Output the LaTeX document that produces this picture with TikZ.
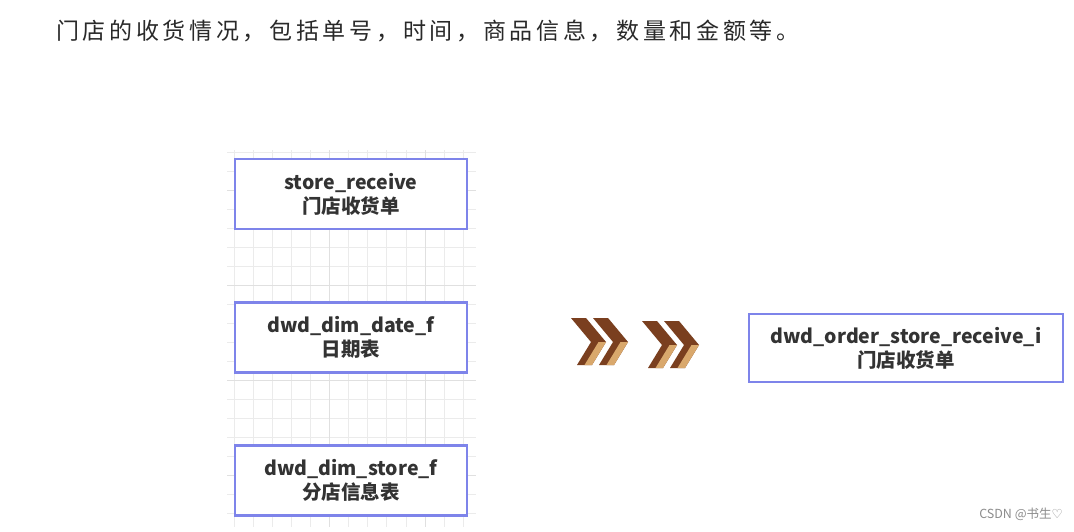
\documentclass[tikz,border=0pt]{standalone}
\usepackage{fontspec}
\setmainfont{Noto Sans CJK SC}
\newfontfamily\titlefont{Noto Sans CJK SC}[LetterSpace=16]
\newfontfamily\heartfont{DejaVu Sans}
\definecolor{boxc}{HTML}{7E84EA}
\definecolor{txtc}{HTML}{333333}
\definecolor{gridc}{HTML}{EBEBEB}
\definecolor{gridm}{HTML}{E0E0E0}
\definecolor{darkb}{HTML}{7A3F1F}
\definecolor{tanb}{HTML}{D9A86C}
\tikzset{
  tbl/.style={draw=boxc, line width=2.1pt, fill=white, align=center,
    minimum width=232pt, minimum height=70pt, inner sep=0pt, text=txtc,
    font=\bfseries\fontsize{19.5}{24}\selectfont},
  gline/.style={draw=gridc, line width=0.8pt},
  gmajor/.style={draw=gridm, line width=0.9pt},
}
\begin{document}
\begin{tikzpicture}[x=1pt,y=-1pt]
\useasboundingbox (0,0) rectangle (1074,531);
\fill[white] (0,0) rectangle (1074,531);
% grid
\foreach \k in {0,...,19} {
  \pgfmathsetmacro\yy{152+19*\k}
  \draw[gline] (227,\yy) -- (476,\yy);
}
\foreach \k in {0,...,12} {
  \pgfmathsetmacro\xx{234+19.1*\k}
  \draw[gline] (\xx,150) -- (\xx,527);
}
\foreach \yy in {190,285,380,475} \draw[gmajor] (227,\yy) -- (476,\yy);
\foreach \xx in {329.5,425} \draw[gmajor] (\xx,150) -- (\xx,527);
% title
\node[anchor=west, inner sep=0pt, text=txtc!80!black, font=\titlefont\fontsize{23}{23}\selectfont] (title) at (56,31) {门店的收货情况，包括单号，时间，商品信息，数量和金额等。};
% boxes
\node[tbl] (sr) at (351,194) {store\_receive\\门店收货单};
\node[tbl] (dt) at (351,337.5) {dwd\_dim\_date\_f\\日期表};
\node[tbl] (st) at (351,480.5) {dwd\_dim\_store\_f\\分店信息表};
\node[tbl, minimum width=314pt, minimum height=68pt] (out) at (906,348) {dwd\_order\_store\_receive\_i\\门店收货单};
% chevrons
\foreach \cx/\cy in {571/318, 593/318, 642/321, 664/321} {
  \begin{scope}[shift={(\cx,\cy)}]
    \fill[darkb] (0,0) -- (15,0) -- (35,24) -- (21,47) -- (6,47) -- (20,24) -- cycle;
    \fill[tanb] (35,24) -- (21,47) -- (13.5,47) -- (27.5,24) -- cycle;
  \end{scope}
}
% watermark
\node[anchor=east, inner sep=0pt, text=black!45, font=\fontsize{12.5}{12.5}\selectfont] (wm) at (1063,514) {CSDN @书生{\heartfont ♡}};
\end{tikzpicture}
\end{document}
